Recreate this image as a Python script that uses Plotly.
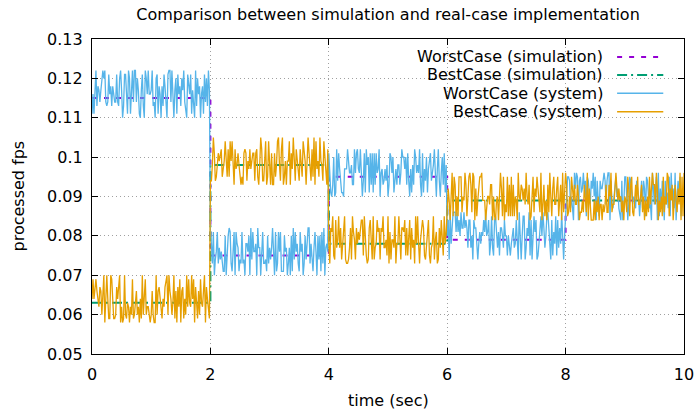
import plotly.graph_objects as go

# ---------------- data ----------------
title_text = "Comparison between simulation and real-case implementation"
x_label = "time (sec)"
y_label = "processed fps"

x_tick_vals = [0, 2, 4, 6, 8, 10]
x_tick_text = ["0", "2", "4", "6", "8", "10"]
y_tick_vals = [0.05, 0.06, 0.07, 0.08, 0.09, 0.10, 0.11, 0.12, 0.13]
y_tick_text = ["0.05", "0.06", "0.07", "0.08", "0.09", "0.1", "0.11", "0.12", "0.13"]

series_names = ["WorstCase (simulation)", "BestCase (simulation)",
                "WorstCase (system)", "BestCase (system)"]

# simulation (step functions, value held from each time until the next)
sim_time = [0, 2, 4, 6, 8, 10]
worst_sim = [.115, .075, .095, .079, .089, .089]
best_sim = [.063, .098, .078, .089, .089, .089]

samples_per_sec = 60  # system sampling rate

worst_sys_0_2 = [
    .111, .116, .111, .117, .122, .113, .118, .117, .114, .117, .121, .122, .120, .122, .114, .113, .114, .121, .116, .118,
    .113, .118, .116, .114, .114, .121, .114, .113, .120, .122, .117, .110, .113, .121, .121, .116, .111, .122, .120, .111,
    .118, .122, .114, .122, .122, .114, .120, .117, .111, .110, .117, .121, .113, .110, .122, .120, .116, .122, .116, .116,
    .117, .122, .113, .114, .110, .120, .121, .111, .118, .116, .110, .118, .113, .121, .118, .113, .110, .121, .122, .122,
    .114, .122, .113, .110, .117, .120, .111, .121, .116, .118, .113, .120, .117, .122, .114, .111, .110, .121, .118, .116,
    .121, .111, .117, .114, .110, .122, .113, .120, .116, .118, .110, .116, .118, .111, .121, .114, .120, .113, .122, .117]
worst_sys_2_4 = [
    .081, .078, .073, .081, .070, .074, .076, .081, .073, .077, .074, .076, .073, .071, .071, .080, .070, .078, .080, .082,
    .081, .073, .071, .076, .081, .070, .081, .078, .077, .071, .074, .073, .081, .073, .074, .070, .078, .078, .076, .080,
    .070, .082, .074, .081, .076, .076, .078, .070, .082, .077, .077, .070, .077, .081, .073, .073, .074, .071, .080, .073,
    .077, .074, .077, .082, .076, .070, .081, .071, .073, .081, .076, .081, .071, .071, .071, .080, .076, .077, .070, .073,
    .077, .070, .080, .071, .082, .074, .081, .076, .078, .073, .071, .081, .076, .078, .070, .073, .080, .074, .077, .082,
    .082, .073, .078, .074, .071, .077, .081, .076, .070, .080, .074, .080, .071, .081, .073, .082, .070, .077, .078, .076]
worst_sys_4_6 = [
    .101, .096, .091, .090, .093, .100, .090, .091, .102, .094, .101, .097, .093, .091, .091, .090, .097, .097, .097, .102,
    .098, .096, .096, .098, .093, .093, .102, .096, .101, .102, .097, .096, .102, .094, .090, .094, .101, .091, .102, .098,
    .100, .091, .101, .093, .101, .091, .101, .093, .101, .096, .097, .102, .090, .096, .097, .093, .094, .097, .094, .098,
    .090, .093, .101, .100, .096, .100, .091, .094, .097, .093, .098, .098, .093, .096, .102, .100, .100, .097, .100, .093,
    .101, .094, .090, .097, .091, .098, .093, .102, .100, .096, .098, .096, .102, .093, .090, .101, .091, .097, .094, .100,
    .091, .097, .100, .101, .094, .096, .098, .102, .093, .090, .097, .102, .094, .090, .096, .100, .093, .101, .091, .098]
worst_sys_6_8 = [
    .080, .084, .074, .086, .078, .082, .086, .086, .086, .081, .086, .081, .084, .080, .086, .082, .082, .086, .082, .084,
    .082, .077, .084, .084, .077, .080, .074, .084, .082, .082, .078, .074, .078, .081, .078, .081, .080, .084, .081, .086,
    .080, .081, .084, .075, .078, .085, .077, .075, .084, .085, .081, .077, .081, .075, .082, .082, .080, .077, .084, .080,
    .080, .075, .080, .077, .075, .078, .081, .082, .077, .078, .084, .078, .074, .086, .081, .074, .080, .085, .085, .074,
    .077, .082, .080, .086, .075, .084, .074, .078, .085, .081, .084, .074, .075, .078, .081, .085, .080, .086, .082, .077,
    .080, .085, .086, .082, .077, .074, .084, .075, .081, .078, .085, .075, .084, .077, .082, .078, .086, .081, .074, .080]
worst_sys_8_10 = [
    .085, .092, .095, .095, .094, .087, .090, .087, .084, .096, .092, .096, .095, .084, .094, .095, .091, .092, .096, .092,
    .094, .085, .095, .094, .091, .088, .094, .092, .096, .090, .095, .084, .094, .088, .085, .094, .092, .092, .094, .096,
    .094, .088, .094, .096, .096, .084, .094, .088, .087, .090, .094, .095, .090, .092, .087, .085, .084, .094, .084, .088,
    .095, .095, .091, .084, .088, .095, .094, .091, .088, .090, .088, .087, .094, .092, .090, .085, .091, .094, .087, .094,
    .092, .085, .095, .094, .090, .087, .088, .084, .096, .091, .088, .091, .095, .084, .096, .085, .092, .087, .094, .090,
    .084, .094, .088, .091, .087, .095, .085, .096, .090, .092, .087, .096, .084, .090, .094, .091, .095, .085, .088, .092, .090]

best_sys_0_2 = [
    .064, .069, .064, .067, .069, .066, .063, .062, .067, .066, .060, .066, .070, .058, .063, .070, .064, .059, .059, .070,
    .069, .062, .059, .059, .060, .067, .064, .067, .070, .058, .062, .058, .059, .070, .060, .059, .063, .062, .058, .062,
    .060, .069, .059, .060, .063, .066, .060, .062, .058, .064, .059, .070, .060, .066, .069, .060, .062, .062, .060, .058,
    .060, .066, .060, .058, .058, .070, .060, .066, .067, .064, .060, .059, .064, .062, .067, .069, .070, .060, .070, .066,
    .064, .060, .063, .070, .059, .066, .058, .067, .062, .069, .058, .066, .067, .059, .064, .060, .070, .062, .069, .063,
    .062, .070, .064, .069, .058, .067, .063, .059, .066, .060, .069, .063, .062, .066, .070, .058, .067, .064, .060, .059]
best_sys_2_4 = [
    .094, .094, .098, .105, .101, .094, .095, .098, .101, .099, .101, .102, .095, .097, .099, .104, .098, .095, .102, .095,
    .104, .099, .104, .098, .093, .102, .097, .098, .101, .098, .094, .093, .095, .093, .101, .102, .101, .094, .099, .097,
    .102, .097, .099, .101, .101, .094, .101, .102, .095, .093, .098, .105, .102, .094, .094, .099, .104, .093, .095, .104,
    .097, .093, .101, .093, .093, .101, .095, .098, .104, .105, .098, .094, .102, .105, .093, .095, .099, .093, .099, .099,
    .104, .093, .101, .097, .105, .098, .094, .102, .099, .095, .094, .102, .097, .095, .104, .101, .099, .093, .098, .105,
    .101, .098, .094, .102, .095, .105, .093, .104, .097, .099, .095, .105, .099, .098, .094, .104, .101, .097, .093, .102]
best_sys_4_6 = [
    .078, .073, .082, .081, .085, .075, .074, .084, .077, .079, .085, .077, .082, .074, .077, .082, .085, .074, .073, .073,
    .074, .077, .082, .074, .085, .081, .079, .074, .082, .078, .081, .079, .082, .084, .084, .075, .085, .077, .075, .073,
    .074, .082, .084, .079, .074, .085, .074, .077, .078, .084, .081, .082, .074, .082, .081, .085, .077, .077, .079, .075,
    .085, .073, .081, .074, .079, .079, .077, .085, .073, .078, .078, .085, .078, .074, .082, .082, .081, .084, .075, .082,
    .075, .081, .084, .074, .082, .077, .079, .073, .085, .078, .085, .078, .073, .079, .081, .084, .082, .075, .074, .077,
    .082, .084, .075, .073, .077, .078, .085, .074, .079, .081, .073, .074, .082, .077, .084, .079, .075, .085, .078, .081]
best_sys_6_8 = [
    .089, .092, .089, .084, .090, .096, .085, .095, .093, .085, .090, .085, .095, .095, .095, .086, .090, .089, .096, .093,
    .085, .090, .095, .096, .093, .086, .096, .095, .084, .092, .085, .089, .093, .095, .095, .096, .089, .089, .089, .084,
    .088, .090, .090, .088, .093, .093, .084, .090, .085, .084, .089, .090, .084, .092, .096, .092, .085, .095, .084, .088,
    .086, .095, .085, .093, .085, .095, .085, .093, .085, .090, .089, .084, .096, .090, .089, .093, .092, .089, .092, .088,
    .096, .090, .088, .093, .084, .085, .089, .095, .086, .092, .090, .095, .092, .089, .086, .096, .084, .088, .093, .085,
    .089, .084, .093, .086, .096, .090, .085, .092, .095, .088, .088, .092, .095, .085, .089, .093, .084, .096, .086, .090]
best_sys_8_10 = [
    .096, .093, .085, .086, .090, .086, .095, .092, .089, .093, .088, .088, .093, .090, .084, .086, .086, .089, .086, .093,
    .090, .086, .096, .084, .092, .088, .084, .084, .084, .089, .084, .089, .086, .090, .084, .088, .088, .084, .088, .086,
    .088, .093, .086, .086, .093, .090, .096, .086, .088, .088, .092, .096, .092, .089, .092, .089, .090, .086, .089, .084,
    .090, .089, .086, .095, .092, .085, .093, .095, .086, .085, .089, .093, .089, .095, .088, .088, .090, .093, .086, .090,
    .084, .089, .085, .090, .086, .095, .088, .092, .096, .093, .093, .088, .096, .092, .084, .089, .086, .090, .085, .095,
    .086, .090, .088, .096, .095, .085, .092, .089, .093, .084, .090, .093, .089, .086, .092, .088, .096, .084, .095, .085, .096]

worst_sys = worst_sys_0_2 + worst_sys_2_4 + worst_sys_4_6 + worst_sys_6_8 + worst_sys_8_10
best_sys = best_sys_0_2 + best_sys_2_4 + best_sys_4_6 + best_sys_6_8 + best_sys_8_10
worst_t = [i / samples_per_sec for i in range(len(worst_sys))]
best_t = [i / samples_per_sec for i in range(len(best_sys))]

# ---------------- styles ----------------
FONT = "DejaVu Sans"
FS = 16
c_worst_sim = "#9400d3"
c_best_sim = "#009e73"
c_worst_sys = "#56b4e9"
c_best_sys = "#e69f00"
dash_worst_sim = "5px,7px"
dash_best_sim = "10px,4px,2px,4px"
sys_width = 1.3

fig = go.Figure()
fig.add_trace(go.Scatter(x=sim_time, y=worst_sim, mode="lines", line_shape="hv",
                         line=dict(color=c_worst_sim, width=2, dash=dash_worst_sim),
                         name=series_names[0], showlegend=False))
fig.add_trace(go.Scatter(x=sim_time, y=best_sim, mode="lines", line_shape="hv",
                         line=dict(color=c_best_sim, width=2, dash=dash_best_sim),
                         name=series_names[1], showlegend=False))
fig.add_trace(go.Scatter(x=worst_t, y=worst_sys, mode="lines",
                         line=dict(color=c_worst_sys, width=sys_width),
                         name=series_names[2], showlegend=False))
fig.add_trace(go.Scatter(x=best_t, y=best_sys, mode="lines",
                         line=dict(color=c_best_sys, width=sys_width),
                         name=series_names[3], showlegend=False))

# gnuplot-style key (text on the left, sample on the right)
key_colors = [c_worst_sim, c_best_sim, c_worst_sys, c_best_sys]
key_dashes = [dash_worst_sim, dash_best_sim, "solid", "solid"]
key_widths = [2, 2, 1.5, 1.5]
key_y = [0.943, 0.886, 0.828, 0.769]
shapes = [dict(type="rect", xref="paper", yref="paper", x0=0.486, x1=0.98, y0=0.733, y1=0.997,
               fillcolor="white", line=dict(width=0), layer="between")]
annotations = []
for name, col, dsh, w, yy in zip(series_names, key_colors, key_dashes, key_widths, key_y):
    annotations.append(dict(text=name, xref="paper", yref="paper", x=0.866, y=yy,
                            xanchor="right", yanchor="middle", showarrow=False,
                            font=dict(family=FONT, size=FS, color="black")))
    shapes.append(dict(type="line", xref="paper", yref="paper", x0=0.887, x1=0.965, y0=yy, y1=yy,
                       line=dict(color=col, width=w, dash=dsh)))

annotations.append(dict(text=y_label, xref="paper", yref="paper", x=-0.125, y=0.5,
                        textangle=-90, xanchor="center", yanchor="middle", showarrow=False,
                        font=dict(family=FONT, size=FS, color="black")))
annotations.append(dict(text=x_label, xref="paper", yref="paper", x=0.5, y=-0.149,
                        xanchor="center", yanchor="middle", showarrow=False,
                        font=dict(family=FONT, size=FS, color="black")))

axis_common = dict(showline=True, linecolor="black", linewidth=1.2, mirror="allticks",
                   ticks="inside", ticklen=6, tickcolor="black", tickwidth=1,
                   showgrid=True, gridcolor="#a0a0a0", gridwidth=1, griddash="1px,3px",
                   zeroline=False, automargin=False,
                   tickfont=dict(family=FONT, size=FS, color="black"))

fig.update_layout(
    width=696, height=418,
    margin=dict(l=92, r=12, t=39, b=64, autoexpand=False),
    paper_bgcolor="white", plot_bgcolor="white",
    title=dict(text=title_text, x=0.5, xref="paper", y=1 - 14 / 418, yref="container",
               xanchor="center", yanchor="middle",
               font=dict(family=FONT, size=FS, color="black")),
    xaxis=dict(range=[0, 10], tickvals=x_tick_vals, ticktext=x_tick_text,
               ticklabelstandoff=6, **axis_common),
    yaxis=dict(range=[0.05, 0.13], tickvals=y_tick_vals, ticktext=y_tick_text,
               ticklabelstandoff=5, **axis_common),
    shapes=shapes, annotations=annotations,
    font=dict(family=FONT, size=FS, color="black"),
)

fig.write_html("out.html")
